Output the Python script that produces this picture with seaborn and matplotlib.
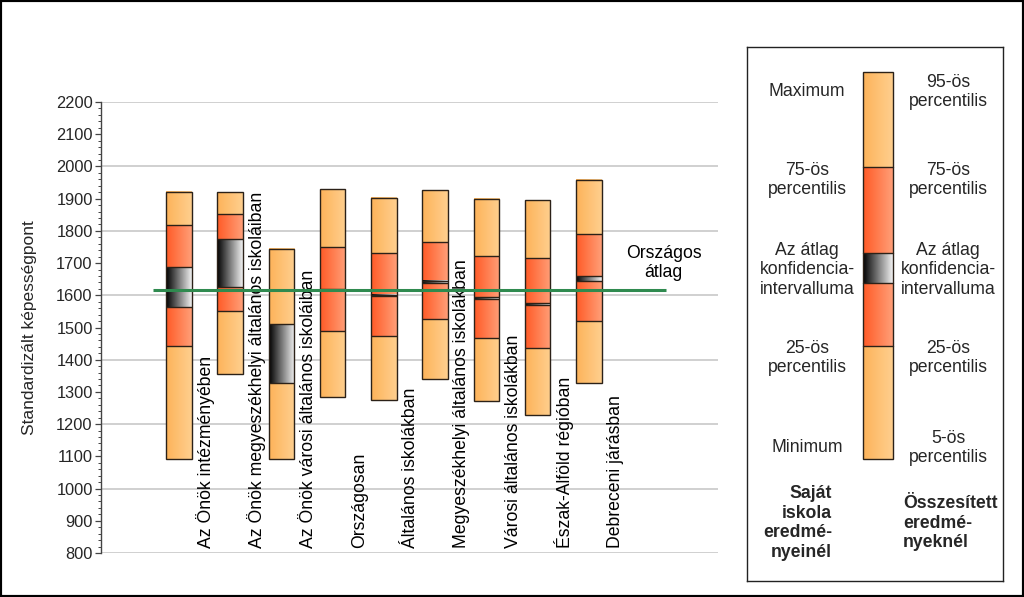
import numpy as np
import matplotlib
matplotlib.use("Agg")
import matplotlib.pyplot as plt
from matplotlib.colors import LinearSegmentedColormap
from matplotlib.patches import Rectangle
from matplotlib.ticker import MultipleLocator
import seaborn as sns

# ---------------- data ----------------
categories = [
    "Az Önök intézményében",
    "Az Önök megyeszékhelyi általános iskoláiban",
    "Az Önök városi általános iskoláiban",
    "Országosan",
    "Általános iskolákban",
    "Megyeszékhelyi általános iskolákban",
    "Városi általános iskolákban",
    "Észak-Alföld régióban",
    "Debreceni járásban",
]
max_vals = [1921, 1920, 1745, 1929, 1903, 1926, 1898, 1895, 1957]
q3_vals = [1817, 1852, 1510, 1751, 1730, 1765, 1721, 1715, 1789]
ci_hi = [1687, 1774, 1510, 1618, 1602, 1644, 1596, 1575, 1660]
ci_lo = [1563, 1627, 1329, 1616, 1597, 1637, 1590, 1570, 1645]
q1_vals = [1442, 1550, 1329, 1489, 1474, 1526, 1467, 1436, 1521]
min_vals = [1093, 1356, 1093, 1283, 1275, 1339, 1273, 1228, 1327]
national_avg = 1617
y_ticks = list(range(800, 2201, 100))

# ---------------- style ----------------
sns.set_theme(style="white")
plt.rcParams["font.family"] = ["Liberation Sans", "DejaVu Sans"]

LIGHT = ("#fdb35a", "#ffcf8e")
RED = ("#ff5a26", "#ff9f78")
CI = ("#000000", "#f2f2f2")
EDGE = "#2b2118"


def cmap2(c):
    return LinearSegmentedColormap.from_list("g", list(c))


def grad(ax, x0, x1, y0, y1, cols, z):
    img = np.linspace(0, 1, 256).reshape(1, -1)
    ax.imshow(img, cmap=cmap2(cols), extent=[x0, x1, y0, y1], aspect="auto",
              interpolation="bilinear", zorder=z)


fig = plt.figure(figsize=(10.24, 5.97), dpi=100)
W, H = 1024, 597
ax = fig.add_axes([101 / W, 1 - 553 / H, (718 - 101) / W, (553 - 102) / H])

n = len(categories)
bw = 0.5
for i in range(n):
    x0, x1 = i - bw / 2, i + bw / 2
    grad(ax, x0, x1, min_vals[i], q1_vals[i], LIGHT, 3)
    grad(ax, x0, x1, q1_vals[i], q3_vals[i], RED, 3)
    grad(ax, x0, x1, q3_vals[i], max_vals[i], LIGHT, 3)
    grad(ax, x0, x1, ci_lo[i], ci_hi[i], CI, 4)
    ax.add_patch(Rectangle((x0, min_vals[i]), bw, max_vals[i] - min_vals[i],
                           fill=False, edgecolor=EDGE, lw=1.0, zorder=5))
    for v in sorted(set((q1_vals[i], q3_vals[i], ci_lo[i], ci_hi[i]))):
        ax.plot([x0, x1], [v, v], color=EDGE, lw=1.0, zorder=5,
                solid_capstyle="butt")
    ax.text(i + 0.52, 815, categories[i], rotation=90, ha="center", va="bottom",
            fontsize=12.7, color="black", zorder=6)

ax.hlines(national_avg, -0.5, n + 0.5, color="#2f8a4f", lw=2.2, zorder=7)
ax.text(n + 0.46, 1700, "Országos\nátlag", ha="center", va="center",
        fontsize=12.7, linespacing=1.15, color="black")

ax.set_xlim(-1.52, 10.52)
ax.set_ylim(800, 2200)
ax.set_yticks(y_ticks)
ax.yaxis.set_minor_locator(MultipleLocator(20))
ax.set_xticks([])
for v in range(800, 2201, 200):
    ax.axhline(v, color="#c4c4c4", lw=1.1, zorder=1)
for s in ("top", "right", "bottom"):
    ax.spines[s].set_visible(False)
ax.spines["left"].set_color("#444444")
ax.spines["left"].set_linewidth(1.0)
ax.tick_params(axis="y", which="major", left=True, length=4, width=0.9,
               color="#444444", labelsize=11.8, pad=2)
ax.tick_params(axis="y", which="minor", left=True, length=2.5, width=0.7,
               color="#444444")
ax.set_ylabel("Standardizált képességpont", fontsize=12.5)
ax.yaxis.set_label_coords(-0.104, 0.5)

# ---------------- legend panel ----------------
lg = fig.add_axes([747 / W, 1 - 581 / H, (1003 - 747) / W, (581 - 47) / H])
lg.set_xticks([])
lg.set_yticks([])
for s in lg.spines.values():
    s.set_color("#222222")
    s.set_linewidth(1.0)

lx0, lx1 = 863, 893
bnd = [72, 167, 253, 283, 346, 459]
grad(lg, lx0, lx1, bnd[1], bnd[0], LIGHT, 3)
grad(lg, lx0, lx1, bnd[4], bnd[1], RED, 3)
grad(lg, lx0, lx1, bnd[3], bnd[2], CI, 4)
grad(lg, lx0, lx1, bnd[5], bnd[4], LIGHT, 3)
lg.add_patch(Rectangle((lx0, bnd[0]), lx1 - lx0, bnd[5] - bnd[0], fill=False,
                       edgecolor=EDGE, lw=1.0, zorder=5))
for b in bnd[1:5]:
    lg.plot([lx0, lx1], [b, b], color=EDGE, lw=1.0, zorder=5)
lg.set_xlim(747, 1003)
lg.set_ylim(581, 47)

fs = 12.7
left_txt = [("Maximum", 91), ("75-ös\npercentilis", 180), ("Az átlag\nkonfidencia-\nintervalluma", 270),
            ("25-ös\npercentilis", 358), ("Minimum", 447)]
right_txt = [("95-ös\npercentilis", 92), ("75-ös\npercentilis", 180), ("Az átlag\nkonfidencia-\nintervalluma", 270),
             ("25-ös\npercentilis", 358), ("5-ös\npercentilis", 448)]
for t, y in left_txt:
    lg.text(807, y, t, ha="center", va="center", fontsize=fs, linespacing=1.2)
for t, y in right_txt:
    lg.text(948, y, t, ha="center", va="center", fontsize=fs, linespacing=1.2)
lg.text(832, 523, "Saját\niskola\neredmé-\nnyeinél", ha="right", va="center",
        fontsize=fs, fontweight="bold", linespacing=1.2, multialignment="right")
lg.text(903, 523, "Összesített\neredmé-\nnyeknél", ha="left", va="center",
        fontsize=fs, fontweight="bold", linespacing=1.2)

# figure frame
fig.patches.append(Rectangle((0, 0), 1, 1, transform=fig.transFigure, fill=False,
                             edgecolor="black", lw=3, zorder=10))

fig.savefig("out.png", dpi=100)
